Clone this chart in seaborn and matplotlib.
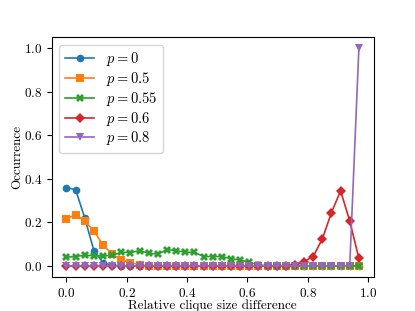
import numpy as np
import matplotlib
matplotlib.use("Agg")
import matplotlib.pyplot as plt
import seaborn as sns

plt.rcParams["font.family"] = "serif"
plt.rcParams["font.serif"] = ["cmr10"]
plt.rcParams["font.size"] = 9.5
plt.rcParams["mathtext.fontset"] = "cm"
plt.rcParams["axes.unicode_minus"] = False
plt.rcParams["axes.formatter.use_mathtext"] = True

# relative clique size difference, 33 bins
x = np.arange(33) / 33

p0 = [0.36, 0.35, 0.22, 0.07, 0.015, 0.003] + [0.0] * 27
p05 = [0.217, 0.235, 0.206, 0.16, 0.096, 0.054, 0.028, 0.015, 0.005] + [0.0] * 24
p055 = [0.04, 0.043, 0.05, 0.046, 0.046, 0.048, 0.063, 0.061, 0.07, 0.058,
        0.054, 0.075, 0.07, 0.063, 0.063, 0.043, 0.043, 0.043, 0.033, 0.028,
        0.017, 0.005] + [0.0] * 11
p06 = [0.0] * 25 + [0.005, 0.02, 0.043, 0.124, 0.245, 0.345, 0.206, 0.035]
p08 = [0.0] * 32 + [1.0]

series = [("$p=0$", p0, "o"), ("$p=0.5$", p05, "s"), ("$p=0.55$", p055, "X"),
          ("$p=0.6$", p06, "D"), ("$p=0.8$", p08, "v")]
colors = sns.color_palette("tab10")

fig, ax = plt.subplots(figsize=(4.15, 3.11), dpi=100)
for i, (lab, vals, m) in enumerate(series):
    sns.lineplot(x=x, y=vals, marker=m, markersize=5.5, markeredgewidth=0,
                 linewidth=1.2, color=colors[i], label=lab, ax=ax)

ax.set_xlabel("Relative clique size difference", labelpad=0)
ax.set_ylabel("Occurrence", labelpad=0.5)
ax.legend(loc="upper left", fontsize=10.5, labelspacing=0.12)
fig.savefig("out.png")
